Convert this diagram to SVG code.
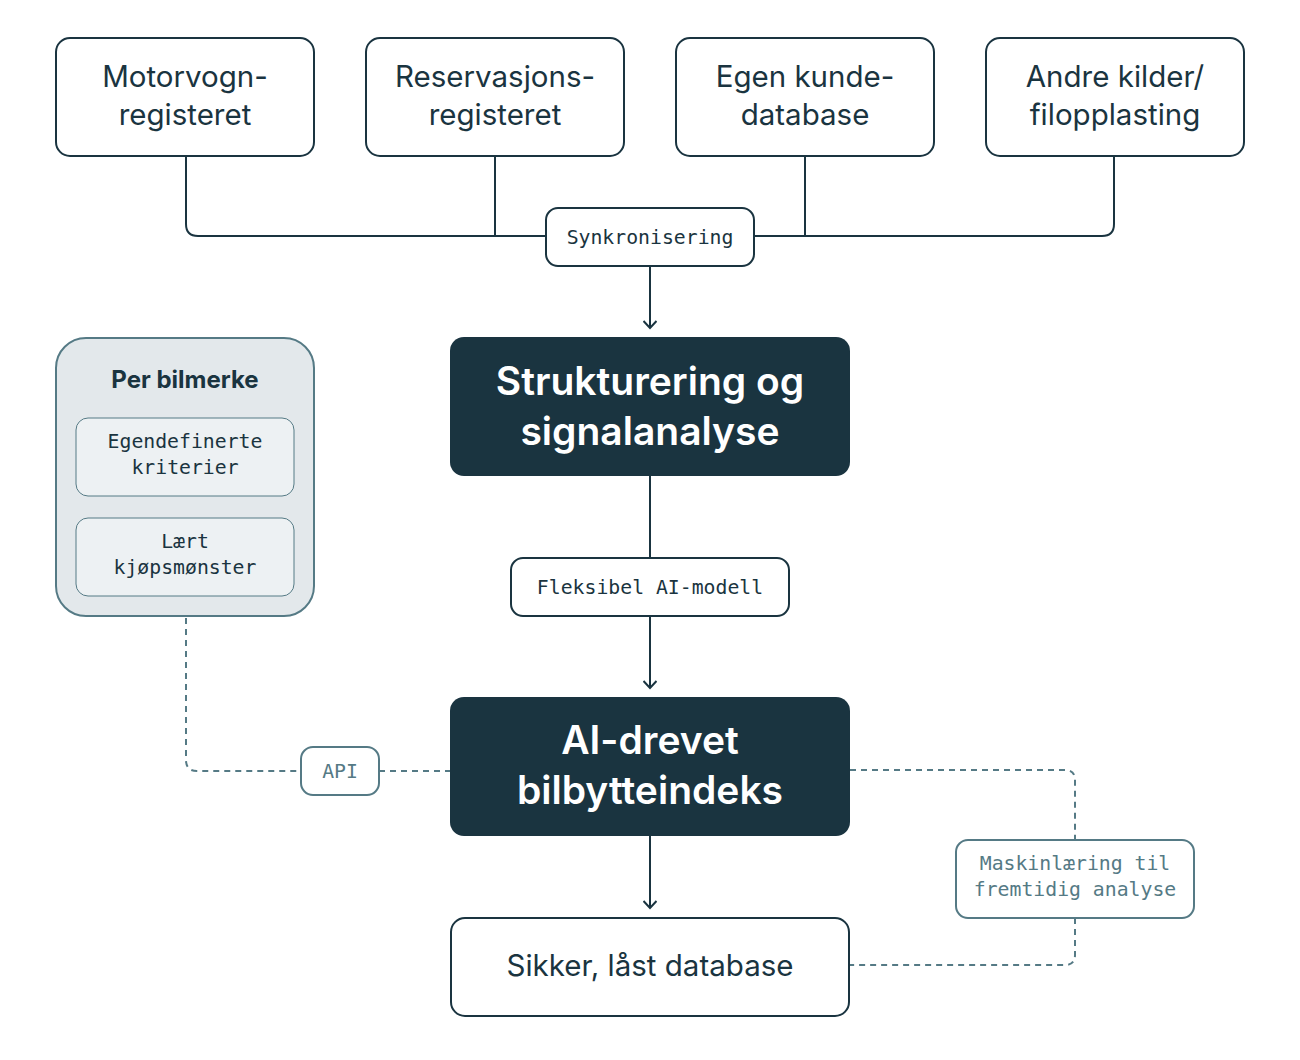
<svg xmlns="http://www.w3.org/2000/svg" width="1300" height="1060" viewBox="0 0 1300 1060">
<defs>
<style>
.src{fill:#fff;stroke:#1a3440;stroke-width:2}
.sans{font-family:Inter,"Noto Sans",sans-serif;fill:#1a3440;text-anchor:middle}
.big{font-size:29.5px}
.title{font-size:39px;font-weight:600;fill:#fff}
.mono{font-family:"DejaVu Sans Mono","Liberation Mono",monospace;font-size:19.8px;fill:#1a3440;text-anchor:middle}
.muted{fill:#557a85}
.line{fill:none;stroke:#1a3440;stroke-width:2}
.dash{fill:none;stroke:#557a85;stroke-width:2;stroke-dasharray:6 5}
.dark{fill:#1a3440}
.lbl{fill:#fff;stroke:#1a3440;stroke-width:2}
.lblm{fill:#fff;stroke:#557a85;stroke-width:2}
</style>
<marker id="arr" viewBox="0 0 14 14" markerWidth="14" markerHeight="14" refX="11" refY="7" orient="auto" markerUnits="userSpaceOnUse">
<path d="M4 0.5 L11 7 L4 13.5" fill="none" stroke="#1a3440" stroke-width="2"/>
</marker>
</defs>
<rect width="1300" height="1060" fill="#fff"/>

<g id="connectors">
<path class="line" d="M186 156 V224 Q186 236 198 236 H1102 Q1114 236 1114 224 V156"/>
<path class="line" d="M495 156 V236"/>
<path class="line" d="M805 156 V236"/>
<path class="line" d="M650 266 V328" marker-end="url(#arr)"/>
<path class="line" d="M650 476 V558"/>
<path class="line" d="M650 616 V688" marker-end="url(#arr)"/>
<path class="line" d="M650 836 V908" marker-end="url(#arr)"/>
<path class="dash" d="M186 618 V760 Q186 771 197 771 H301"/>
<path class="dash" d="M379 771 H450"/>
<path class="dash" d="M850 770 H1065 Q1075 770 1075 780 V840"/>
<path class="dash" d="M1075 918 V955 Q1075 965 1065 965 H850"/>
</g>

<g id="motorvogn">
<rect class="src" x="56" y="38" width="258" height="118" rx="14"/>
<text class="sans big" x="185" y="87">Motorvogn-</text>
<text class="sans big" x="185" y="125">registeret</text>
</g>
<g id="reservasjon">
<rect class="src" x="366" y="38" width="258" height="118" rx="14"/>
<text class="sans big" x="495" y="87">Reservasjons-</text>
<text class="sans big" x="495" y="125">registeret</text>
</g>
<g id="kundedatabase">
<rect class="src" x="676" y="38" width="258" height="118" rx="14"/>
<text class="sans big" x="805" y="87">Egen kunde-</text>
<text class="sans big" x="805" y="125">database</text>
</g>
<g id="andrekilder">
<rect class="src" x="986" y="38" width="258" height="118" rx="14"/>
<text class="sans big" x="1115" y="87">Andre kilder/</text>
<text class="sans big" x="1115" y="125">filopplasting</text>
</g>

<g id="synk">
<rect class="lbl" x="546" y="208" width="208" height="58" rx="12"/>
<text class="mono" x="650" y="244">Synkronisering</text>
</g>

<g id="strukturering">
<rect class="dark" x="450" y="337" width="400" height="139" rx="14"/>
<text class="sans title" x="650" y="395">Strukturering og</text>
<text class="sans title" x="650" y="445">signalanalyse</text>
</g>

<g id="fleksibel">
<rect class="lbl" x="511" y="558" width="278" height="58" rx="12"/>
<text class="mono" x="650" y="594">Fleksibel AI-modell</text>
</g>

<g id="aiindeks">
<rect class="dark" x="450" y="697" width="400" height="139" rx="14"/>
<text class="sans title" x="650" y="754">AI-drevet</text>
<text class="sans title" x="650" y="804">bilbytteindeks</text>
</g>

<g id="database">
<rect class="src" x="451" y="918" width="398" height="98" rx="14"/>
<text class="sans big" x="650" y="976">Sikker, låst database</text>
</g>

<g id="perbilmerke">
<rect x="56" y="338" width="258" height="278" rx="30" fill="#e3e8eb" stroke="#557a85" stroke-width="2"/>
<text class="sans" x="185" y="388" font-size="24" font-weight="700">Per bilmerke</text>
<rect x="76" y="418" width="218" height="78" rx="12" fill="#edf1f3" stroke="#557a85" stroke-width="1"/>
<text class="mono" x="185" y="448">Egendefinerte</text>
<text class="mono" x="185" y="474">kriterier</text>
<rect x="76" y="518" width="218" height="78" rx="12" fill="#edf1f3" stroke="#557a85" stroke-width="1"/>
<text class="mono" x="185" y="548">Lært</text>
<text class="mono" x="185" y="574">kjøpsmønster</text>
</g>

<g id="api">
<rect class="lblm" x="301" y="747" width="78" height="48" rx="12"/>
<text class="mono muted" x="340" y="778">API</text>
</g>

<g id="maskinlaering">
<rect class="lblm" x="956" y="840" width="238" height="78" rx="12"/>
<text class="mono muted" x="1075" y="870">Maskinlæring til</text>
<text class="mono muted" x="1075" y="896">fremtidig analyse</text>
</g>
</svg>
